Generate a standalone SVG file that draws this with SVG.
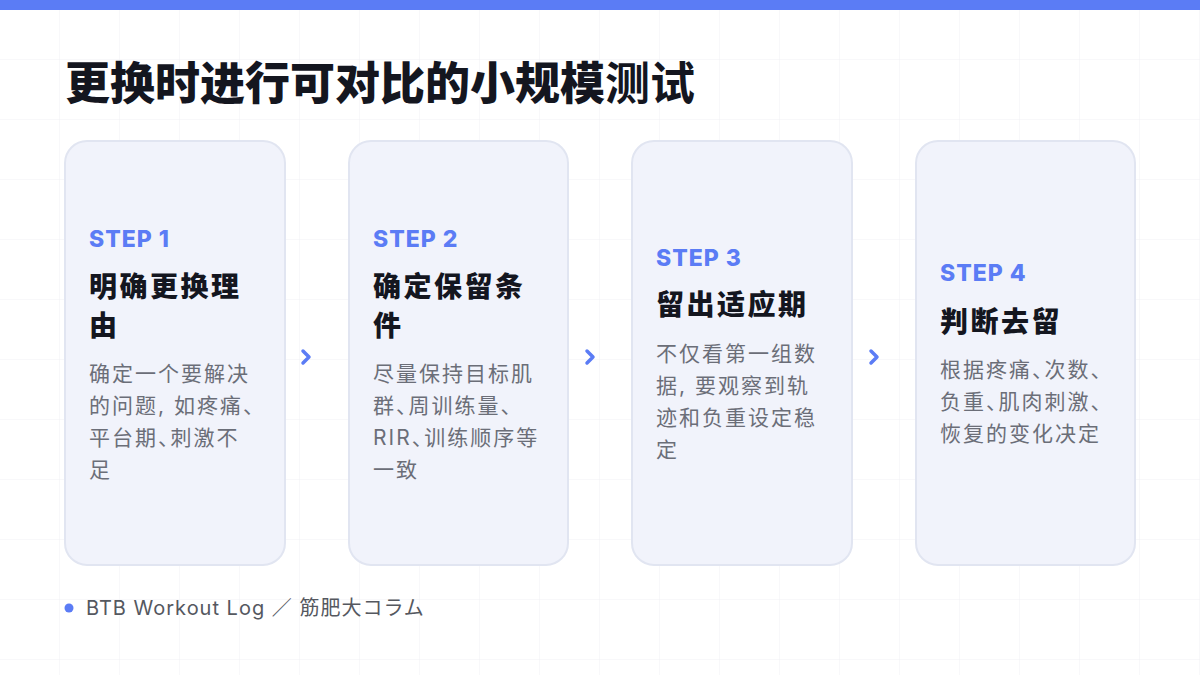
<svg xmlns="http://www.w3.org/2000/svg" width="1200" height="675" viewBox="0 0 1200 675">
<defs>
<pattern id="grid" width="60" height="60" patternUnits="userSpaceOnUse"><path d="M60 0V60H0" fill="none" stroke="#f0f1f4" stroke-width="1"/></pattern>
<style>
text{font-family:"Inter","Noto Sans CJK SC",sans-serif}
.card{fill:#f1f3fb;stroke:#e1e5f1;stroke-width:2}
.step{font-size:23px;font-weight:800;fill:#5b7cf5;letter-spacing:1px}
.tt{font-size:28px;font-weight:800;fill:#14161f;letter-spacing:2.5px}
.bd{font-size:21px;fill:#6b6e78;letter-spacing:2px;font-feature-settings:"halt"}
.chev{fill:none;stroke:#5b7cf5;stroke-width:3.5;stroke-linecap:round;stroke-linejoin:round}
</style>
</defs>
<rect width="1200" height="675" fill="#fff"/>
<rect width="1200" height="675" fill="url(#grid)"/>
<rect width="1200" height="10" fill="#5b7cf5"/>
<text x="65" y="100" font-size="45" fill="#14161f"><tspan font-weight="800">更换时进行可</tspan><tspan font-weight="900">对比的小规模</tspan><tspan font-weight="600">测试</tspan></text>
<g id="step1"><rect class="card" x="65" y="141" width="220" height="424" rx="22"/>
<text class="step" x="89" y="247">STEP 1</text>
<text class="tt" x="89" y="297">明确更换理</text><text class="tt" x="89" y="336">由</text>
<text class="bd" x="89" y="381">确定一个要解决</text><text class="bd" x="89" y="413">的问题, 如疼痛、</text><text class="bd" x="89" y="445">平台期、刺激不</text><text class="bd" x="89" y="477">足</text></g>
<g id="step2"><rect class="card" x="349" y="141" width="219" height="424" rx="22"/>
<text class="step" x="373" y="247">STEP 2</text>
<text class="tt" x="373" y="297">确定保留条</text><text class="tt" x="373" y="336">件</text>
<text class="bd" x="373" y="381">尽量保持目标肌</text><text class="bd" x="373" y="413">群、周训练量、</text><text class="bd" x="373" y="445">RIR、训练顺序等</text><text class="bd" x="373" y="477">一致</text></g>
<g id="step3"><rect class="card" x="632" y="141" width="220" height="424" rx="22"/>
<text class="step" x="656" y="266">STEP 3</text>
<text class="tt" x="656" y="315">留出适应期</text>
<text class="bd" x="656" y="361">不仅看第一组数</text><text class="bd" x="656" y="393">据, 要观察到轨</text><text class="bd" x="656" y="425">迹和负重设定稳</text><text class="bd" x="656" y="457">定</text></g>
<g id="step4"><rect class="card" x="916" y="141" width="219" height="424" rx="22"/>
<text class="step" x="940" y="281">STEP 4</text>
<text class="tt" x="940" y="332">判断去留</text>
<text class="bd" x="940" y="377">根据疼痛、次数、</text><text class="bd" x="940" y="409">负重、肌肉刺激、</text><text class="bd" x="940" y="441">恢复的变化决定</text></g>
<g id="connectors">
<path class="chev" d="M303 351L309 357L303 363"/>
<path class="chev" d="M587 351L593 357L587 363"/>
<path class="chev" d="M871 351L877 357L871 363"/>
</g>
<circle cx="69" cy="608" r="4.5" fill="#5b7cf5"/>
<text x="86" y="615" font-size="20" fill="#55585f" letter-spacing="1">BTB Workout Log ／ 筋肥大コラム</text>
</svg>
